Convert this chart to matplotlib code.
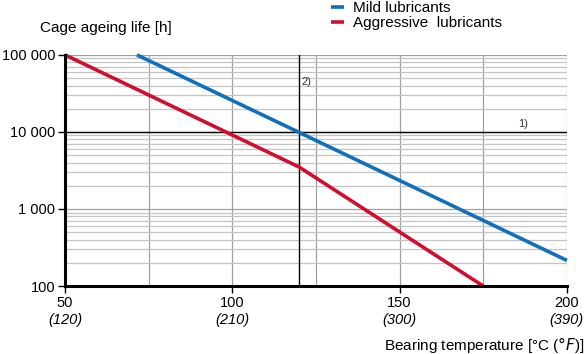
import matplotlib
matplotlib.use("Agg")
import matplotlib.pyplot as plt
from matplotlib.ticker import LogLocator, NullFormatter
import matplotlib.transforms as mtransforms

plt.rcParams['font.family'] = ['Liberation Sans', 'DejaVu Sans']

# data
mild_temp = [71.5, 200]
mild_life = [100000, 215]
aggr_temp = [50, 120, 175]
aggr_life = [100000, 3500, 100]

x_ticks = [50, 100, 150, 200]
x_labels = ["50", "100", "150", "200"]
x_labels_f = ["(120)", "(210)", "(300)", "(390)"]
y_ticks = [100, 1000, 10000, 100000]
y_labels = ["100", "1 000", "10 000", "100 000"]

blue = '#1170bb'
red = '#cf0f2f'

fig = plt.figure(figsize=(5.85, 3.54), dpi=100)
ax = fig.add_axes([0.111, 0.192, 0.858, 0.653])

ax.set_yscale('log')
ax.set_xlim(50, 200)
ax.set_ylim(100, 100000)

# grid
ax.xaxis.grid(True, color='#a0a0a0', lw=0.9)
ax.yaxis.set_minor_locator(LogLocator(base=10, subs=range(2, 10)))
ax.yaxis.set_minor_formatter(NullFormatter())
ax.yaxis.grid(True, which='minor', color='#c4c4c4', lw=0.9)
ax.yaxis.grid(True, which='major', color='#a0a0a0', lw=0.9)
ax.set_axisbelow(True)

ax.axhline(10000, color='black', lw=1.0, zorder=2)
ax.axvline(120, color='black', lw=1.0, zorder=2)

l1, = ax.plot(mild_temp, mild_life, color=blue, lw=2.6, solid_capstyle='butt', zorder=3, clip_on=False)
l2, = ax.plot(aggr_temp, aggr_life, color=red, lw=2.6, solid_capstyle='butt', zorder=3, clip_on=False)

for s in ['top', 'right']:
    ax.spines[s].set_visible(False)
ax.spines['left'].set_linewidth(2.2)
ax.spines['bottom'].set_linewidth(2.2)
ax.spines['left'].set_zorder(4)
ax.spines['bottom'].set_zorder(4)

ax.set_yticks(y_ticks)
ax.set_yticklabels(y_labels)
ax.set_xticks(range(50, 201, 25))
ax.set_xticklabels(["50", "", "100", "", "150", "", "200"])
ax.tick_params(axis='both', which='major', labelsize=10.5, direction='out', length=5, width=1, color='black', pad=2)
ax.tick_params(axis='y', which='minor', length=0)
for i, t in enumerate(ax.xaxis.get_major_ticks()):
    if i % 2 == 1:
        t.tick1line.set_visible(False)

trans = mtransforms.blended_transform_factory(ax.transData, ax.transAxes)
for x, lab in zip(x_ticks, x_labels_f):
    ax.text(x, -0.115, lab, transform=trans, ha='center', va='top', fontsize=10.5, style='italic')

ax.text(120.6, 45000, "2)", fontsize=8, color='#333333', ha='left', va='center')
ax.text(185.3, 12800, "1)", fontsize=8, color='#333333', ha='left', va='center')

fig.text(0.068, 0.922, "Cage ageing life [h]", fontsize=11, ha='left', va='center')
fig.text(0.999, 0.025, r"Bearing temperature [°C ($\it{°F}$)]", fontsize=11, ha='right', va='center')

fig.legend([l1, l2], ["Mild lubricants", "Aggressive  lubricants"], loc='upper left',
           bbox_to_anchor=(0.565, 0.996), frameon=False, fontsize=11, handlelength=0.9,
           handletextpad=0.6, labelspacing=0.05, borderaxespad=0, borderpad=0)

fig.savefig("out.png", dpi=100)
